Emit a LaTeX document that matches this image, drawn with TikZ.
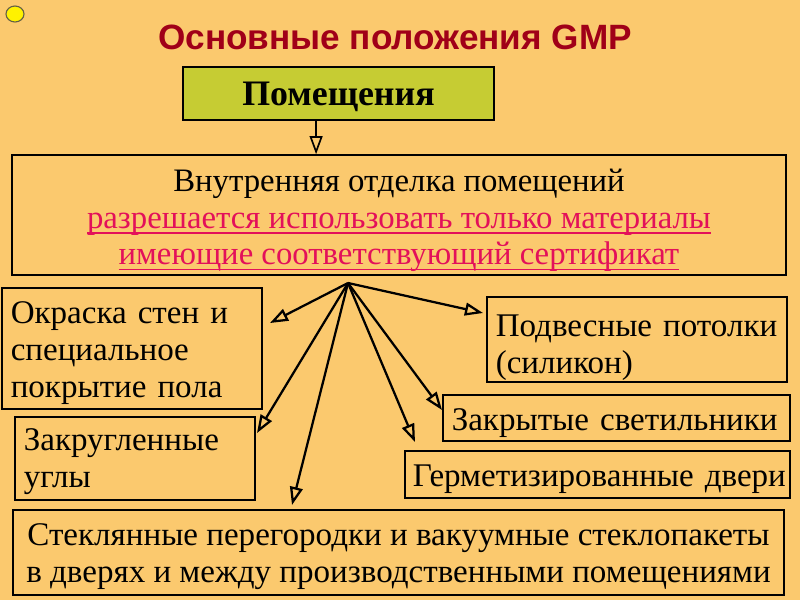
\documentclass[tikz,border=0pt]{standalone}
\usepackage{fontspec}
\setmainfont{Liberation Serif}
\newfontfamily\titlefont{Liberation Sans}
\usetikzlibrary{arrows.meta,positioning}
\definecolor{slide}{HTML}{FBC96E}
\definecolor{olive}{HTML}{C6CC33}
\definecolor{darkred}{HTML}{A00018}
\definecolor{pinkred}{HTML}{E3105A}
\newsavebox{\redbox}
\newcommand{\redline}[1]{\sbox{\redbox}{#1}\rlap{\usebox{\redbox}}\rule[-4pt]{\wd\redbox}{1.2pt}}
\newcommand{\dropby}[1]{\rule{0pt}{#1}}

\begin{document}
\begin{tikzpicture}[
    x=0.025cm, y=-0.025cm,
    every node/.style={font=\fontsize{23.5}{26.3}\selectfont},
    blk/.style={draw,line width=1.1pt,fill=slide,inner xsep=0.22cm,inner ysep=0pt,align=left},
    line/.style={-{Triangle[open,length=4.5mm,width=3.2mm]},line width=1.6pt},
]

% Slide background
\useasboundingbox[fill=slide] (0,0) rectangle (800,600);
\draw[fill=yellow,line width=0.8pt,draw=black!70!yellow] (15,14) ellipse [x radius=9, y radius=8];

% Title
\node[font=\titlefont\bfseries\fontsize{25}{30}\selectfont,darkred] (title) at (395,37)
    {Основные положения GMP};

% Top box
\node[blk,fill=olive,line width=1.8pt,align=center,minimum width=7.775cm,minimum height=1.325cm,
      font=\bfseries\fontsize{25.5}{30}\selectfont] (room) at (338.5,93.5) {\dropby{0.74cm}Помещения};

% Finishing box
\node[blk,align=center,minimum width=19.35cm,minimum height=3cm,
      font=\fontsize{23.3}{26}\selectfont] (finish) at (399,215)
    {\dropby{0.84cm}Внутренняя отделка помещений\\
     {\color{pinkred}\redline{разрешается использовать только материалы}}\\
     {\color{pinkred}\redline{имеющие соответствующий сертификат}}};
\coordinate (tfin) at ([xshift=-0.56cm]room.south);
\draw[line,line width=1.2pt] (tfin) -- (tfin |- finish.north);

% Requirement boxes
\node[blk,minimum width=6.5cm,text width=6.06cm,minimum height=3.025cm] (paint) at (132,348.5)
    {\dropby{0.76cm}Окраска стен и\\специальное\\покрытие пола};
\node[blk,minimum width=6cm,text width=5.56cm,minimum height=2.075cm] (corner) at (135,458.5)
    {\dropby{0.7cm}Закругленные\\углы};
\node[blk,minimum width=7.5cm,text width=7.06cm,minimum height=2.125cm] (ceil) at (637,339.5)
    {\dropby{0.95cm}Подвесные потолки\\(силикон)};
\node[blk,minimum width=8.675cm,text width=8.235cm,minimum height=1.15cm] (lamp) at (616.5,418)
    {\dropby{0.8cm}Закрытые светильники};
\node[blk,inner xsep=0.2cm,minimum width=9.625cm,text width=9.225cm,minimum height=1.175cm] (door) at (597.5,474.5)
    {\dropby{0.8cm}\mbox{Герметизированные двери}};
\node[blk,align=center,minimum width=19.275cm,minimum height=2.125cm] (glass) at (398.5,552.5)
    {\dropby{0.75cm}Стеклянные перегородки и вакуумные стеклопакеты\\в дверях и между производственными помещениями};

% Fan of arrows
\coordinate (hub) at (348,283);
\coordinate (tpaint) at (270,323);
\coordinate (tceil) at (483,313);
\coordinate (tcorner) at (257,433);
\coordinate (tglass) at (292,505);
\coordinate (tlamp) at (442,410);
\coordinate (tdoor) at (415,442);
\foreach \t in {tpaint,tceil,tcorner,tglass,tlamp,tdoor}
    \draw[line] (hub) -- (\t);

\end{tikzpicture}
\end{document}
